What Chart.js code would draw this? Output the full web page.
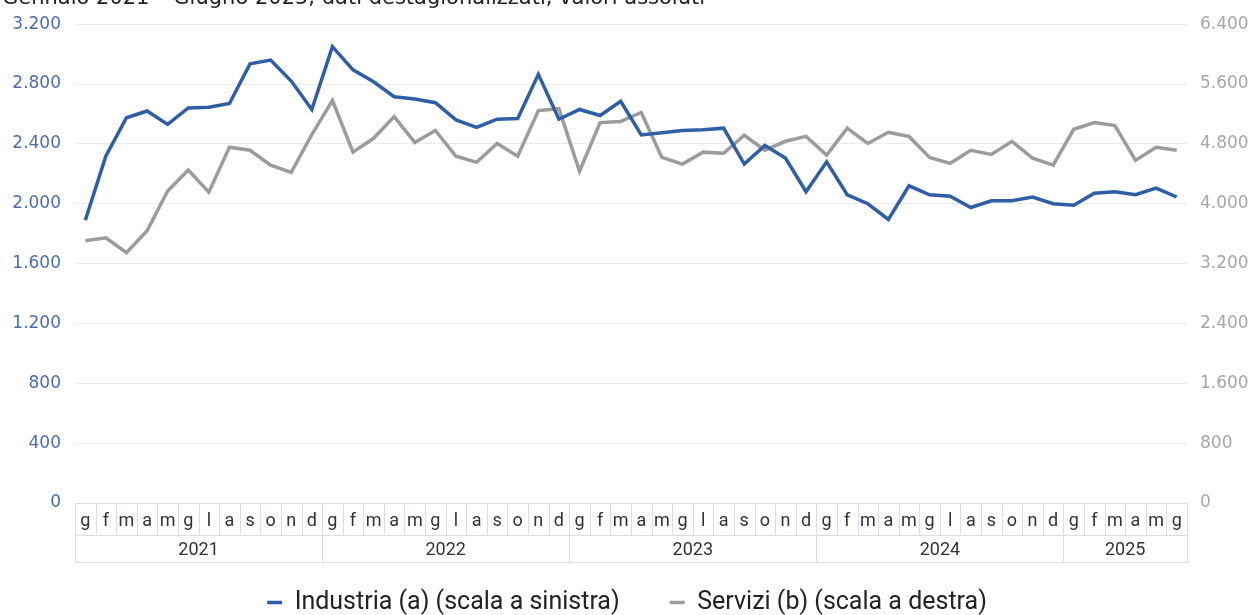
<!DOCTYPE html>
<html>
<head>
<meta charset="utf-8">
<script src="https://cdn.jsdelivr.net/npm/chart.js@4.4.1/dist/chart.umd.min.js"></script>
<style>
  html, body { margin: 0; padding: 0; background: #fff; overflow: hidden; }
  #wrap { position: relative; width: 1254px; height: 615px; overflow: hidden; }
  #title { position: absolute; left: 2px; top: -15px; font: 21px "DejaVu Sans"; color: #222; white-space: nowrap; }
  canvas { position: absolute; left: 0; top: 0; }
</style>
</head>
<body>
<div id="wrap">
  <canvas id="chart" width="1254" height="625"></canvas>
  <div id="title">Gennaio 2021 – Giugno 2025, dati destagionalizzati, valori assoluti</div>
</div>
<script>
const years = ['2021', '2022', '2023', '2024', '2025']
const monthsPerYear = [12, 12, 12, 12, 6]
const monthLetters = ['g', 'f', 'm', 'a', 'm', 'g', 'l', 'a', 's', 'o', 'n', 'd']

// Industria (a), scala a sinistra
const industria = [
  1890, 2320, 2575, 2620, 2530, 2640, 2645, 2670, 2935, 2960, 2820, 2630,
  3050, 2895, 2815, 2715, 2700, 2675, 2560, 2510, 2565, 2570, 2865, 2565,
  2630, 2590, 2685, 2460, 2475, 2490, 2495, 2505, 2265, 2390, 2305, 2080,
  2280, 2060, 2000, 1895, 2120, 2060, 2050, 1975, 2020, 2020, 2045, 2000,
  1990, 2070, 2080, 2060, 2105, 2045
]

// Servizi (b), scala a destra
const servizi = [
  3505, 3545, 3345, 3640, 4170, 4450, 4155, 4755, 4715, 4515, 4420, 4925,
  5380, 4690, 4875, 5165, 4820, 4980, 4635, 4555, 4805, 4635, 5245, 5270,
  4435, 5085, 5100, 5220, 4620, 4530, 4690, 4675, 4915, 4715, 4835, 4900,
  4650, 5010, 4805, 4955, 4900, 4620, 4540, 4715, 4660, 4835, 4610, 4515,
  4995, 5085, 5045, 4580, 4755, 4715
]

const labels = []
years.forEach((y, i) => {
  for (let m = 0; m < monthsPerYear[i]; m++) labels.push(monthLetters[m])
})

const fmt = (v) => v.toLocaleString('it-IT')

// box around the category axis, with year row underneath
const categoryBox = {
  id: 'categoryBox',
  afterDraw(chart) {
    const { ctx, chartArea } = chart
    const x = chart.scales.x
    const half = (x.getPixelForValue(1) - x.getPixelForValue(0)) / 2
    const top = Math.round(chartArea.bottom) + 0.5
    const mid = top + 32
    const bottom = top + 59
    const left = Math.round(x.getPixelForValue(0) - half) + 0.5
    const right = Math.round(x.getPixelForValue(labels.length - 1) + half) + 0.5

    ctx.save()
    ctx.strokeStyle = '#d6ddeb'
    ctx.lineWidth = 1
    ctx.strokeRect(left, top, right - left, bottom - top)
    ctx.beginPath()
    ctx.moveTo(left, mid)
    ctx.lineTo(right, mid)

    let idx = 0
    const yearBounds = []
    monthsPerYear.forEach((n) => {
      yearBounds.push([idx, idx + n - 1])
      idx += n
    })
    const starts = new Set(yearBounds.map((b) => b[0]))
    for (let i = 1; i < labels.length; i++) {
      const px = Math.round(x.getPixelForValue(i) - half) + 0.5
      ctx.moveTo(px, top)
      ctx.lineTo(px, starts.has(i) ? bottom : mid)
    }
    ctx.stroke()

    ctx.fillStyle = '#333'
    ctx.font = '18px Roboto'
    ctx.textAlign = 'center'
    ctx.textBaseline = 'middle'
    yearBounds.forEach((b, i) => {
      const cx = (x.getPixelForValue(b[0]) + x.getPixelForValue(b[1])) / 2
      ctx.fillText(years[i], cx, (mid + bottom) / 2 + 1)
    })
    ctx.restore()
  }
}

new Chart(document.getElementById('chart'), {
  type: 'line',
  data: {
    labels,
    datasets: [
      {
        label: 'Industria (a) (scala a sinistra)',
        data: industria,
        yAxisID: 'y',
        borderColor: '#2e5ea8',
        backgroundColor: '#2e5ea8',
        borderWidth: 3.5,
        pointRadius: 0,
        tension: 0
      },
      {
        label: 'Servizi (b) (scala a destra)',
        data: servizi,
        yAxisID: 'y1',
        borderColor: '#9c9c9c',
        backgroundColor: '#9c9c9c',
        borderWidth: 3.5,
        pointRadius: 0,
        tension: 0
      }
    ]
  },
  options: {
    responsive: false,
    animation: false,
    layout: { padding: { top: 21, bottom: 0, left: 0, right: 0 } },
    plugins: {
      tooltip: { enabled: false },
      legend: {
        position: 'bottom',
        labels: {
          usePointStyle: true,
          pointStyle: 'line',
          pointStyleWidth: 15,
          boxWidth: 15,
          padding: 50,
          color: '#222',
          font: { family: 'Roboto', size: 25 }
        }
      }
    },
    scales: {
      x: {
        offset: true,
        grid: { display: false, drawTicks: false },
        border: { display: false },
        ticks: {
          autoSkip: false,
          maxRotation: 0,
          padding: 8,
          color: '#333',
          font: { family: 'Roboto', size: 18 }
        },
        afterFit: (s) => { s.height = 37 }
      },
      y: {
        position: 'left',
        min: 0,
        max: 3200,
        ticks: {
          stepSize: 400,
          padding: 14,
          color: '#4a6db0',
          font: { family: 'DejaVu Sans', size: 17 },
          callback: fmt
        },
        grid: { color: '#ebebeb', drawTicks: false },
        border: { display: false },
        afterFit: (s) => { s.width = 75 }
      },
      y1: {
        position: 'right',
        min: 0,
        max: 6400,
        ticks: {
          stepSize: 800,
          padding: 13,
          color: '#a6a6a6',
          font: { family: 'DejaVu Sans', size: 17 },
          callback: fmt
        },
        grid: { display: false, drawTicks: false },
        border: { display: false },
        afterFit: (s) => { s.width = 67 }
      }
    }
  },
  plugins: [categoryBox]
})
</script>
</body>
</html>
